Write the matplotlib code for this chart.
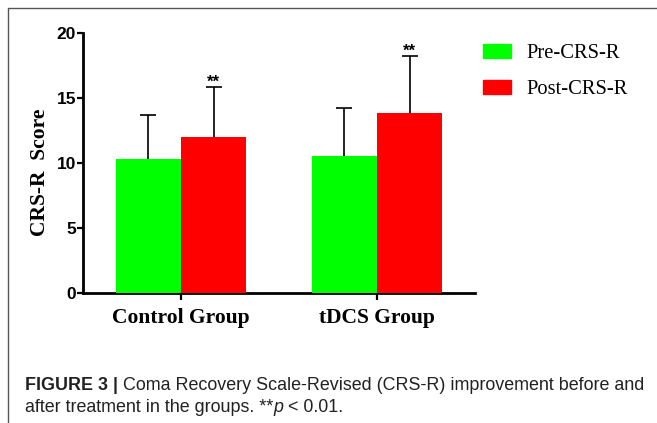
import matplotlib.pyplot as plt
import matplotlib.font_manager as fm
from matplotlib.lines import Line2D
from matplotlib.patches import Patch
import numpy as np

# data
groups = ["Control Group", "tDCS Group"]
series = ["Pre-CRS-R", "Post-CRS-R"]
pre_mean = [10.3, 10.55]
pre_sd = [3.4, 3.7]
post_mean = [12.0, 13.85]
post_sd = [3.85, 4.4]
stars = ["**", "**"]
colors = ["#00ff00", "#ff0000"]

W, H = 657, 423
fig = plt.figure(figsize=(W / 100, H / 100), dpi=100)

# axes box in pixels: x 83..475, y 33..293
ax = fig.add_axes([83 / W, 1 - 293 / H, (475 - 83) / W, (293 - 33) / H])

x = np.arange(len(groups))
bw = 1 / 3
ax.bar(x - bw / 2, pre_mean, bw, color=colors[0], zorder=3)
ax.bar(x + bw / 2, post_mean, bw, color=colors[1], zorder=3)

for xs, m, s in [(x - bw / 2, pre_mean, pre_sd), (x + bw / 2, post_mean, post_sd)]:
    eb = ax.errorbar(xs, m, yerr=[np.zeros(len(s)), s], fmt="none", ecolor="black",
                     elinewidth=1.2, capsize=6, capthick=1.2, zorder=2)
    eb[1][0].set_visible(False)

for xi, m, s, st in zip(x + bw / 2, post_mean, post_sd, stars):
    ax.annotate(st, (xi, m + s), xytext=(0, -2), textcoords="offset points",
                ha="center", va="bottom", fontsize=12, fontweight="bold",
                family="Liberation Sans")

ax.set_xlim(-0.5, 1.5)
ax.set_ylim(0, 20)
ax.set_yticks([0, 5, 10, 15, 20])
ax.set_xticks(x)
ax.set_xticklabels(groups, family="Liberation Serif", fontweight="bold", fontsize=15.5)
for lab in ax.get_yticklabels():
    lab.set_family("Liberation Sans")
    lab.set_fontweight("bold")
    lab.set_fontsize(12.5)
for sp in ["top", "right"]:
    ax.spines[sp].set_visible(False)
for sp in ["left", "bottom"]:
    ax.spines[sp].set_linewidth(2)
ax.tick_params(axis="y", length=4, width=1.6, pad=1)
ax.tick_params(axis="x", length=5, width=1.6, pad=6)

fig.text(40 / W, 1 - 172 / H, "CRS-R  Score", rotation=90, ha="center", va="center",
         family="Liberation Serif", fontweight="bold", fontsize=15.5)

handles = [Patch(color=c, label=l) for c, l in zip(colors, series)]
fig.legend(handles=handles, loc="upper left", bbox_to_anchor=(483 / W, 1 - 44 / H),
           frameon=False, borderpad=0, borderaxespad=0, handlelength=1.35,
           handleheight=0.7, handletextpad=0.75, labelspacing=0.8,
           prop=fm.FontProperties(family="Liberation Serif", size=14.8))

# outer frame (top and left edges visible)
fig.add_artist(Line2D([8 / W, 8 / W, 1], [0, 1 - 8 / H, 1 - 8 / H],
                      transform=fig.transFigure, color="#555555", lw=1))

# caption
cap_family = ["Liberation Sans Narrow", "Liberation Sans"]
cap_size = 12.9
fig.canvas.draw()
r = fig.canvas.get_renderer()


def put_line(segments, x0, y0):
    xp = x0
    for txt, kw in segments:
        t = fig.text(xp / W, 1 - y0 / H, txt, va="center", ha="left",
                     family=cap_family, fontsize=cap_size, color="#222222", **kw)
        bb = t.get_window_extent(renderer=r)
        xp += bb.width


put_line([("FIGURE 3 | ", {"fontweight": "bold"}),
          ("Coma Recovery Scale-Revised (CRS-R) improvement before and", {})], 25, 385)
put_line([("after treatment in the groups. **", {}), ("p", {"style": "italic"}),
          (" < 0.01.", {})], 25, 407)

fig.savefig("out.png", dpi=100)
